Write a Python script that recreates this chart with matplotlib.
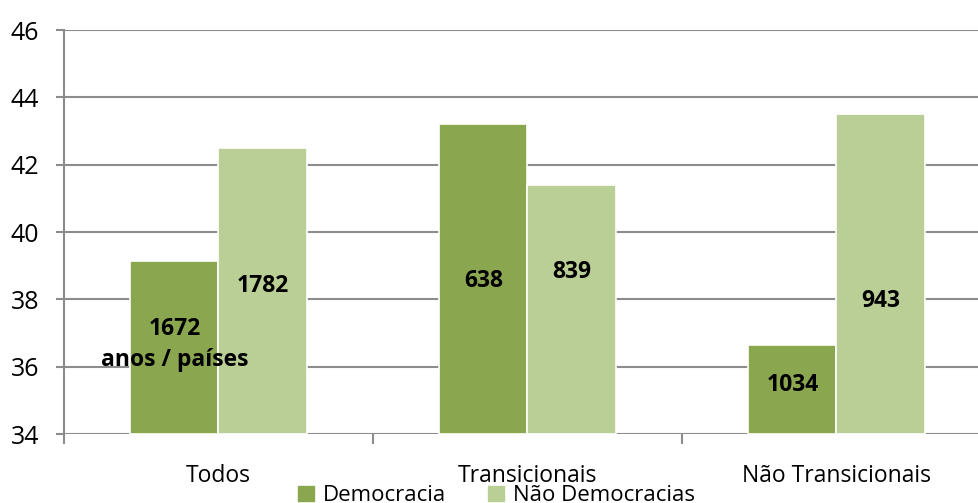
import numpy as np
import matplotlib.pyplot as plt
from matplotlib.patches import Patch

plt.rcParams['font.family'] = ['Open Sans', 'DejaVu Sans']

# dados
categorias = ['Todos', 'Transicionais', 'Não Transicionais']
democracia = [39.15, 43.2, 36.65]
nao_democracia = [42.5, 41.4, 43.5]
n_democracia = ['1672\nanos / países', '638', '1034']
n_nao_democracia = ['1782', '839', '943']
y_rot_dem = [36.65, 38.55, 35.45]   # altura dos rótulos dentro das barras
y_rot_nd = [38.4, 38.8, 37.95]

cor_dem = '#8aa64f'
cor_nd = '#b9cf95'
cor_grade = '#8c8c8c'

fig = plt.figure(figsize=(9.79, 5.03), dpi=100)
ax = fig.add_axes([64/979, 1 - 434/503, (991 - 64)/979, (434 - 30)/503])

x = np.arange(len(categorias))
w = 0.285
ax.bar(x - w/2, np.array(democracia) - 34, w, bottom=34, color=cor_dem,
       edgecolor='white', linewidth=1.2, zorder=3)
ax.bar(x + w/2, np.array(nao_democracia) - 34, w, bottom=34, color=cor_nd,
       edgecolor='white', linewidth=1.2, zorder=3)

for i in range(len(categorias)):
    ax.text(x[i] - w/2, y_rot_dem[i], n_democracia[i], ha='center', va='center',
            fontsize=16.5, fontweight='bold', zorder=4, linespacing=1.4)
    ax.text(x[i] + w/2, y_rot_nd[i], n_nao_democracia[i], ha='center', va='center',
            fontsize=16.5, fontweight='bold', zorder=4)

ax.set_ylim(34, 46)
ax.set_xlim(-0.5, 2.5)
ax.set_yticks(np.arange(34, 47, 2))
ax.yaxis.grid(True, color=cor_grade, linewidth=1.5, zorder=0)
ax.set_axisbelow(True)

ax.set_xticks(np.arange(-0.5, 2.6, 1))
ax.set_xticklabels([])
for i, c in enumerate(categorias):
    ax.text(x[i], 32.75, c, ha='center', va='center', fontsize=16.5)

for s in ['top', 'right', 'bottom']:
    ax.spines[s].set_visible(False)
ax.spines['left'].set_color(cor_grade)
ax.spines['left'].set_linewidth(1.5)
ax.tick_params(axis='y', labelsize=18, length=6, width=1.5, color=cor_grade, pad=12)
ax.tick_params(axis='x', length=7, width=1.5, color=cor_grade)

handles = [Patch(color=cor_dem, label='Democracia'),
           Patch(color=cor_nd, label='Não Democracias')]
fig.legend(handles=handles, loc='center', bbox_to_anchor=(0.507, 0.014), ncol=2,
           frameon=False, fontsize=16, handlelength=0.7, handleheight=0.7,
           handletextpad=0.4, columnspacing=1.9)

fig.savefig('out.png', dpi=100)
